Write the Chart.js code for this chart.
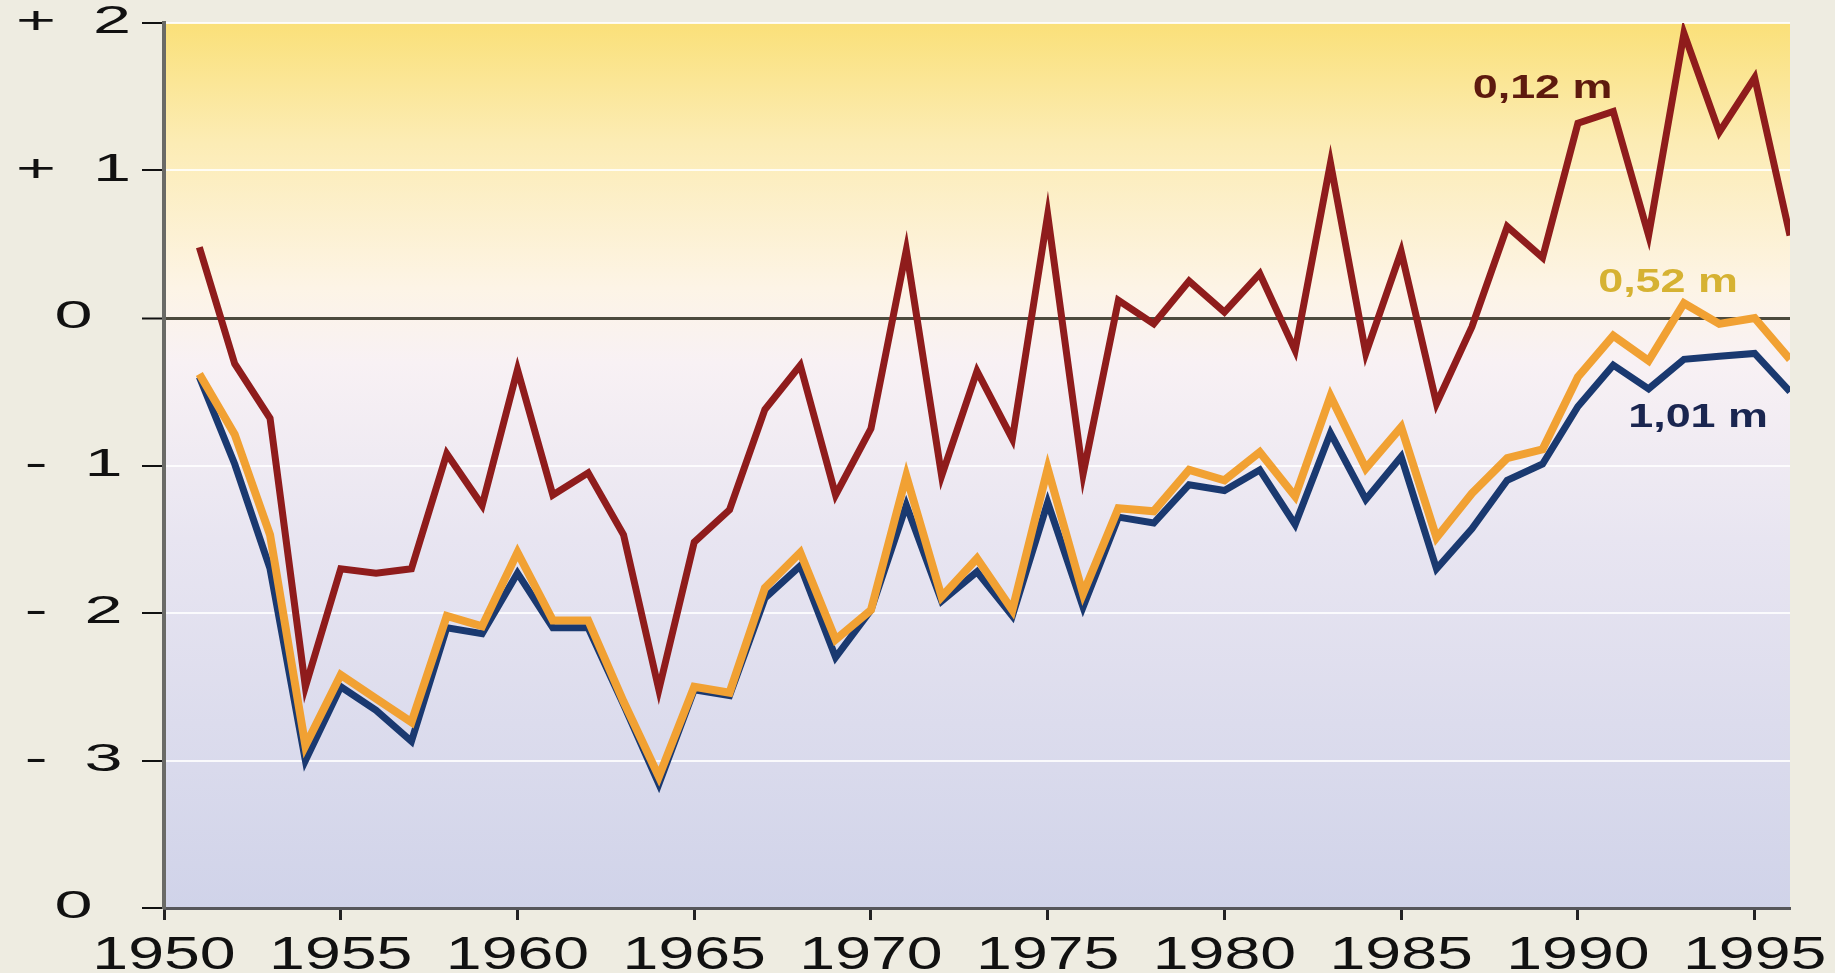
<!DOCTYPE html>
<html>
<head>
<meta charset="utf-8">
<script src="https://cdn.jsdelivr.net/npm/chart.js@4/dist/chart.umd.min.js"></script>
<style>
  html, body { margin: 0; padding: 0; background: #eeece1; }
  #wrap { width: 1835px; height: 973px; }
</style>
</head>
<body>
<div id="wrap"><canvas id="iceChart" width="1835" height="973"></canvas></div>
<script>
// Years and the three series (anomaly per ice thickness)
const years = [1951, 1952, 1953, 1954, 1955, 1956, 1957, 1958, 1959, 1960,
  1961, 1962, 1963, 1964, 1965, 1966, 1967, 1968, 1969, 1970,
  1971, 1972, 1973, 1974, 1975, 1976, 1977, 1978, 1979, 1980,
  1981, 1982, 1983, 1984, 1985, 1986, 1987, 1988, 1989, 1990,
  1991, 1992, 1993, 1994, 1995, 1996];

const thin012 = [0.48, -0.31, -0.68, -2.5, -1.7, -1.73, -1.7, -0.92, -1.27, -0.35,
  -1.2, -1.05, -1.47, -2.52, -1.52, -1.3, -0.62, -0.32, -1.2, -0.75,
  0.46, -1.07, -0.36, -0.82, 0.7, -1.06, 0.12, -0.04, 0.25, 0.04,
  0.3, -0.22, 1.05, -0.24, 0.45, -0.58, -0.06, 0.62, 0.41, 1.32,
  1.4, 0.56, 1.93, 1.26, 1.63, 0.56];

const mid052 = [-0.38, -0.79, -1.47, -2.9, -2.42, -2.58, -2.74, -2.02, -2.09, -1.59,
  -2.05, -2.05, -2.6, -3.11, -2.5, -2.54, -1.83, -1.59, -2.18, -1.98,
  -1.07, -1.89, -1.63, -1.98, -1.02, -1.87, -1.29, -1.31, -1.03, -1.1,
  -0.91, -1.21, -0.53, -1.02, -0.74, -1.49, -1.19, -0.95, -0.89, -0.4,
  -0.12, -0.29, 0.1, -0.04, 0.0, -0.28];

const thick101 = [-0.4, -0.99, -1.7, -3.0, -2.5, -2.66, -2.87, -2.1, -2.14, -1.73,
  -2.1, -2.1, -2.62, -3.16, -2.52, -2.56, -1.9, -1.68, -2.3, -1.98,
  -1.27, -1.92, -1.72, -2.02, -1.25, -1.96, -1.35, -1.39, -1.13, -1.17,
  -1.03, -1.4, -0.78, -1.23, -0.94, -1.7, -1.43, -1.1, -0.99, -0.6,
  -0.32, -0.48, -0.28, -0.26, -0.24, -0.5];

const seriesNames = ['0,12 m', '0,52 m', '1,01 m'];

// Axis ticks
const xTickYears = [1950, 1955, 1960, 1965, 1970, 1975, 1980, 1985, 1990, 1995];
const yTickValues = [-4, -3, -2, -1, 0, 1, 2];
const yTickLabels = ['0', '- 3', '- 2', '- 1', '0', '+ 1', '+ 2'];

const toPoints = (vals) => years.map((yr, i) => ({ x: yr, y: vals[i] }));

// the original lettering is a very wide (extended) face: stretch tick labels
// horizontally around their anchor. Chart.js rotates each label right after
// moving to it, so hook a scale in there.
function stretchLabels(scale, sx, spacing) {
  if (scale._stretched) return;
  scale._stretched = true;
  const draw = scale.drawLabels.bind(scale);
  scale.drawLabels = (area) => {
    const c = scale.ctx;
    const rotate = c.rotate;
    c.rotate = function (a) {
      rotate.call(this, a);
      this.scale(sx, 1);
      this.letterSpacing = spacing + 'px';
    };
    draw(area);
    delete c.rotate;
    c.letterSpacing = '0px';
  };
}

// Plot area gradient: yellow at the top, pale at zero, lavender at bottom
const plotBackground = {
  id: 'plotBackground',
  beforeDraw(chart) {
    const { ctx, chartArea: a, scales } = chart;
    const g = ctx.createLinearGradient(0, a.top, 0, a.bottom);
    const stop = (v) => (scales.y.getPixelForValue(v) - a.top) / (a.bottom - a.top);
    g.addColorStop(0, '#fae079');
    g.addColorStop(stop(1.2), '#fcecb4');
    g.addColorStop(stop(0.2), '#fdf4e6');
    g.addColorStop(stop(-0.3), '#f8f1f4');
    g.addColorStop(stop(-1.5), '#e8e5f1');
    g.addColorStop(1, '#d0d3e9');
    ctx.save();
    ctx.fillStyle = g;
    ctx.fillRect(a.left, a.top, a.right - a.left, a.bottom - a.top);
    ctx.restore();
  }
};

// Series labels next to the line ends
const seriesLabels = {
  id: 'seriesLabels',
  afterDatasetsDraw(chart) {
    const { ctx, scales } = chart;
    const spots = [
      { text: seriesNames[0], x: 1989.0, y: 1.55, color: '#5e1a0e' },
      { text: seriesNames[1], x: 1992.55, y: 0.24, color: '#d6b232' },
      { text: seriesNames[2], x: 1993.4, y: -0.68, color: '#1a2650' }
    ];
    ctx.save();
    ctx.font = 'bold 33px "Liberation Sans", Arial, sans-serif';
    ctx.textAlign = 'center';
    ctx.textBaseline = 'middle';
    spots.forEach(s => {
      ctx.save();
      ctx.translate(scales.x.getPixelForValue(s.x), scales.y.getPixelForValue(s.y));
      ctx.scale(1.36, 1);
      ctx.fillStyle = s.color;
      ctx.fillText(s.text, 0, 0);
      ctx.restore();
    });
    ctx.restore();
  }
};

const ctx = document.getElementById('iceChart').getContext('2d');
new Chart(ctx, {
  type: 'line',
  data: {
    datasets: [
      {
        label: seriesNames[0],
        data: toPoints(thin012),
        borderColor: '#8f1c1c',
        borderWidth: 7,
        order: 1
      },
      {
        label: seriesNames[1],
        data: toPoints(mid052),
        borderColor: '#f1a133',
        borderWidth: 8,
        order: 2
      },
      {
        label: seriesNames[2],
        data: toPoints(thick101),
        borderColor: '#1a3970',
        borderWidth: 7,
        order: 3
      }
    ]
  },
  options: {
    responsive: false,
    animation: false,
    devicePixelRatio: 1,
    layout: { padding: { top: 23, right: 45, left: 0, bottom: 0 } },
    elements: {
      point: { radius: 0 },
      line: { tension: 0, borderJoinStyle: 'miter', borderCapStyle: 'butt' }
    },
    plugins: {
      legend: { display: false },
      tooltip: { enabled: false }
    },
    scales: {
      x: {
        type: 'linear',
        min: 1950,
        max: 1996,
        afterBuildTicks: (scale) => { scale.ticks = xTickYears.map(v => ({ value: v })); },
        afterFit: (scale) => {
          scale.height = 65;
          scale.paddingLeft = 0;
          scale.paddingRight = 0;
          stretchLabels(scale, 1.4, 0);
        },
        ticks: {
          color: '#111',
          font: { family: '"Liberation Sans", Arial, sans-serif', size: 46 },
          padding: 9,
          maxRotation: 0,
          autoSkip: false,
          callback: (v) => String(v)
        },
        grid: {
          drawOnChartArea: false,
          drawTicks: true,
          tickLength: 12,
          tickColor: '#222',
          tickWidth: 3
        },
        border: { display: true, color: '#56565a', width: 3 }
      },
      y: {
        min: -4,
        max: 2,
        afterBuildTicks: (scale) => { scale.ticks = yTickValues.map(v => ({ value: v })); },
        afterFit: (scale) => {
          scale.width = 164;
          scale.paddingTop = 0;
          scale.paddingBottom = 0;
          stretchLabels(scale, 1.8, 5);
        },
        ticks: {
          color: '#111',
          font: { family: '"Liberation Sans", Arial, sans-serif', size: 38 },
          crossAlign: 'center',
          padding: 37,
          callback: (v) => yTickLabels[yTickValues.indexOf(v)]
        },
        grid: {
          drawOnChartArea: true,
          tickLength: 22,
          tickColor: '#111',
          tickWidth: 2,
          color: (c) => c.tick && c.tick.value === 0 ? '#4c4a3e' : 'rgba(255,255,255,0.85)',
          lineWidth: (c) => c.tick && c.tick.value === 0 ? 3 : 2
        },
        border: { display: true, color: '#6a6a66', width: 4 }
      }
    }
  },
  plugins: [plotBackground, seriesLabels]
});
</script>
</body>
</html>
